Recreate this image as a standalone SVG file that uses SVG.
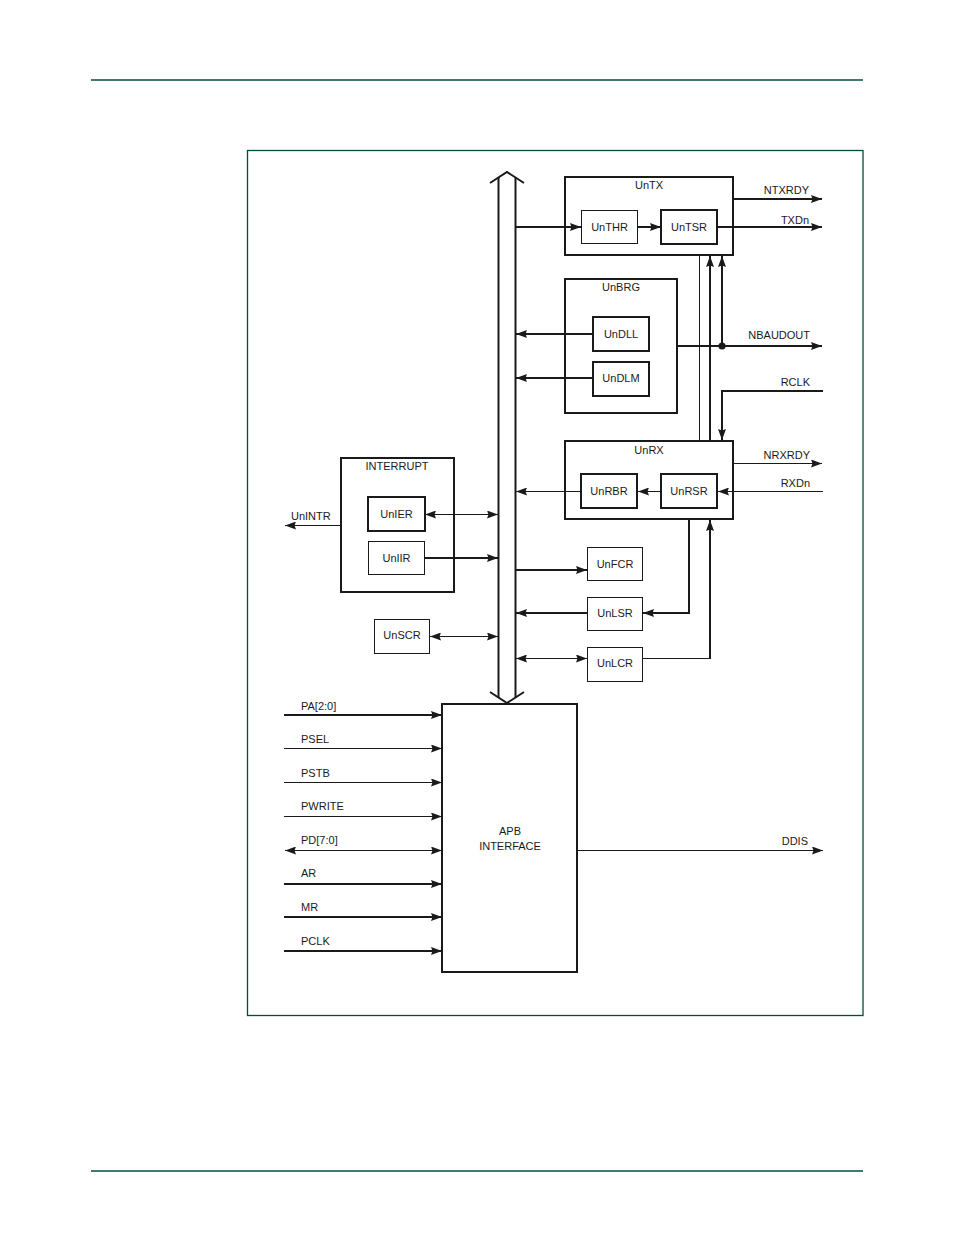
<svg xmlns="http://www.w3.org/2000/svg" width="954" height="1235" viewBox="0 0 954 1235">
<style>
text{font-family:"Liberation Sans",Arial,sans-serif;font-size:11px;fill:#1a1a1a}
.c{text-anchor:middle}
.r{text-anchor:end}
.box{fill:none;stroke:#1a1a1a;stroke-width:2}
.tbox{fill:none;stroke:#1a1a1a;stroke-width:1}
.thk{fill:none;stroke:#1a1a1a;stroke-width:2}
.thn{fill:none;stroke:#1a1a1a;stroke-width:1}
.ae{marker-end:url(#ah)}
.as{marker-start:url(#ahs)}
.grn{stroke:#004d3c;fill:none}
</style>
<defs>
<marker id="ah" markerUnits="userSpaceOnUse" markerWidth="11" markerHeight="8" viewBox="0 0 11 8" refX="11" refY="4" orient="auto"><path d="M0,0 L11,4 L0,8 L1.5,4 z" fill="#1a1a1a"/></marker>
<marker id="ahs" markerUnits="userSpaceOnUse" markerWidth="11" markerHeight="8" viewBox="0 0 11 8" refX="11" refY="4" orient="auto-start-reverse"><path d="M0,0 L11,4 L0,8 L1.5,4 z" fill="#1a1a1a"/></marker>
</defs>
<rect width="954" height="1235" fill="#fff"/>
<g id="page">
<line class="grn" x1="91" y1="80" x2="863" y2="80" stroke-width="1.6"/>
<line class="grn" x1="91" y1="1171" x2="863" y2="1171" stroke-width="1.3"/>
<rect class="grn" x="247.5" y="150.5" width="615.5" height="865" stroke-width="1.3"/>
</g>
<g id="bus">
<polyline class="thk" points="490,183 507,172 524,183" stroke-width="1.6"/>
<polyline class="thk" points="490,692 507,703 524,692" stroke-width="1.6"/>
<line class="thk" x1="498.5" y1="177" x2="498.5" y2="698"/>
<line class="thk" x1="515.5" y1="177" x2="515.5" y2="698"/>
</g>
<g id="untx">
<rect class="box" x="565" y="177" width="168" height="78"/>
<text class="c" x="649" y="189">UnTX</text>
</g>
<g id="unthr">
<rect class="tbox" x="581.5" y="210.5" width="56" height="33"/>
<text class="c" x="609.5" y="231">UnTHR</text>
</g>
<g id="untsr">
<rect class="box" x="661" y="210" width="56" height="34"/>
<text class="c" x="689" y="231">UnTSR</text>
</g>
<g id="unbrg">
<rect class="box" x="565" y="279" width="112" height="134"/>
<text class="c" x="621" y="291">UnBRG</text>
</g>
<g id="undll">
<rect class="box" x="593" y="317" width="56" height="34"/>
<text class="c" x="621" y="338">UnDLL</text>
</g>
<g id="undlm">
<rect class="box" x="593" y="362" width="56" height="34"/>
<text class="c" x="621" y="382">UnDLM</text>
</g>
<g id="unrx">
<rect class="box" x="565" y="441" width="168" height="78"/>
<text class="c" x="649" y="454">UnRX</text>
</g>
<g id="unrbr">
<rect class="box" x="581" y="474" width="56" height="34"/>
<text class="c" x="609" y="495">UnRBR</text>
</g>
<g id="unrsr">
<rect class="box" x="661" y="474" width="56" height="34"/>
<text class="c" x="689" y="495">UnRSR</text>
</g>
<g id="interrupt">
<rect class="box" x="341" y="458" width="113" height="134"/>
<text class="c" x="397" y="470">INTERRUPT</text>
</g>
<g id="unier">
<rect class="box" x="368" y="497" width="57" height="34"/>
<text class="c" x="396.5" y="518">UnIER</text>
</g>
<g id="uniir">
<rect class="tbox" x="368.5" y="541.5" width="56" height="33"/>
<text class="c" x="396.5" y="562">UnIIR</text>
</g>
<g id="unfcr">
<rect class="tbox" x="587.5" y="547.5" width="55" height="33"/>
<text class="c" x="615" y="568">UnFCR</text>
</g>
<g id="unlsr">
<rect class="tbox" x="587.5" y="597.5" width="55" height="33"/>
<text class="c" x="615" y="617">UnLSR</text>
</g>
<g id="unlcr">
<rect class="tbox" x="587.5" y="647.5" width="55" height="34"/>
<text class="c" x="615" y="667">UnLCR</text>
</g>
<g id="unscr">
<rect class="tbox" x="374.5" y="619.5" width="55" height="34"/>
<text class="c" x="402" y="639">UnSCR</text>
</g>
<g id="apb">
<rect class="box" x="442" y="704" width="135" height="268"/>
<text class="c" x="510" y="835">APB</text>
<text class="c" x="510" y="850">INTERFACE</text>
</g>
<g id="connectors">
<line class="thk ae" x1="516" y1="227" x2="581" y2="227"/>
<line class="thk ae" x1="637" y1="227" x2="661" y2="227"/>
<line class="thk ae" x1="717" y1="227" x2="822" y2="227"/>
<line class="thk ae" x1="733" y1="199" x2="822" y2="199"/>
<line class="thn" x1="699.5" y1="255" x2="699.5" y2="441"/>
<line class="thk ae" x1="710" y1="441" x2="710" y2="256"/>
<line class="thk ae" x1="722" y1="346" x2="722" y2="256"/>
<line class="thk ae" x1="677" y1="346" x2="822" y2="346"/>
<circle cx="722" cy="346" r="3.6" fill="#1a1a1a"/>
<polyline class="thk ae" points="823,391 722,391 722,440"/>
<line class="thk ae" x1="593" y1="334" x2="516" y2="334"/>
<line class="thk ae" x1="593" y1="378" x2="516" y2="378"/>
<line class="thn ae" x1="733" y1="463.5" x2="822" y2="463.5"/>
<line class="thn ae" x1="823" y1="491.5" x2="718" y2="491.5"/>
<line class="thn ae" x1="661" y1="491.5" x2="638" y2="491.5"/>
<line class="thn ae" x1="581" y1="491.5" x2="516" y2="491.5"/>
<polyline class="thk ae" points="689,519 689,613 643,613"/>
<line class="thn" x1="643" y1="658.5" x2="711" y2="658.5"/>
<line class="thk ae" x1="710" y1="659" x2="710" y2="520"/>
<line class="thk ae" x1="516" y1="570" x2="587" y2="570"/>
<line class="thk ae" x1="587" y1="613" x2="516" y2="613"/>
<line class="thn ae as" x1="516" y1="658.5" x2="587" y2="658.5"/>
<line class="thn ae as" x1="430" y1="636.5" x2="498" y2="636.5"/>
<line class="thn ae as" x1="425" y1="514.5" x2="498" y2="514.5"/>
<line class="thk ae" x1="425" y1="558" x2="498" y2="558"/>
<line class="thn ae" x1="341" y1="525.5" x2="285" y2="525.5"/>
<line class="thk ae" x1="284" y1="715" x2="442" y2="715"/>
<line class="thn ae" x1="284" y1="748.5" x2="442" y2="748.5"/>
<line class="thn ae" x1="284" y1="782.5" x2="442" y2="782.5"/>
<line class="thn ae" x1="284" y1="816.5" x2="442" y2="816.5"/>
<line class="thn ae as" x1="285" y1="850.5" x2="442" y2="850.5"/>
<line class="thk ae" x1="284" y1="884" x2="442" y2="884"/>
<line class="thk ae" x1="284" y1="917" x2="442" y2="917"/>
<line class="thk ae" x1="284" y1="951" x2="442" y2="951"/>
<line class="thn ae" x1="577" y1="850.5" x2="823" y2="850.5"/>
</g>
<g id="labels">
<text class="r" x="809" y="194">NTXRDY</text>
<text class="r" x="809" y="224">TXDn</text>
<text class="r" x="810" y="339">NBAUDOUT</text>
<text class="r" x="810" y="386">RCLK</text>
<text class="r" x="810" y="459">NRXRDY</text>
<text class="r" x="810" y="487">RXDn</text>
<text class="r" x="808" y="845">DDIS</text>
<text x="291" y="520">UnINTR</text>
<text x="301" y="710">PA[2:0]</text>
<text x="301" y="743">PSEL</text>
<text x="301" y="777">PSTB</text>
<text x="301" y="810">PWRITE</text>
<text x="301" y="844">PD[7:0]</text>
<text x="301" y="877">AR</text>
<text x="301" y="911">MR</text>
<text x="301" y="945">PCLK</text>
</g>
</svg>
